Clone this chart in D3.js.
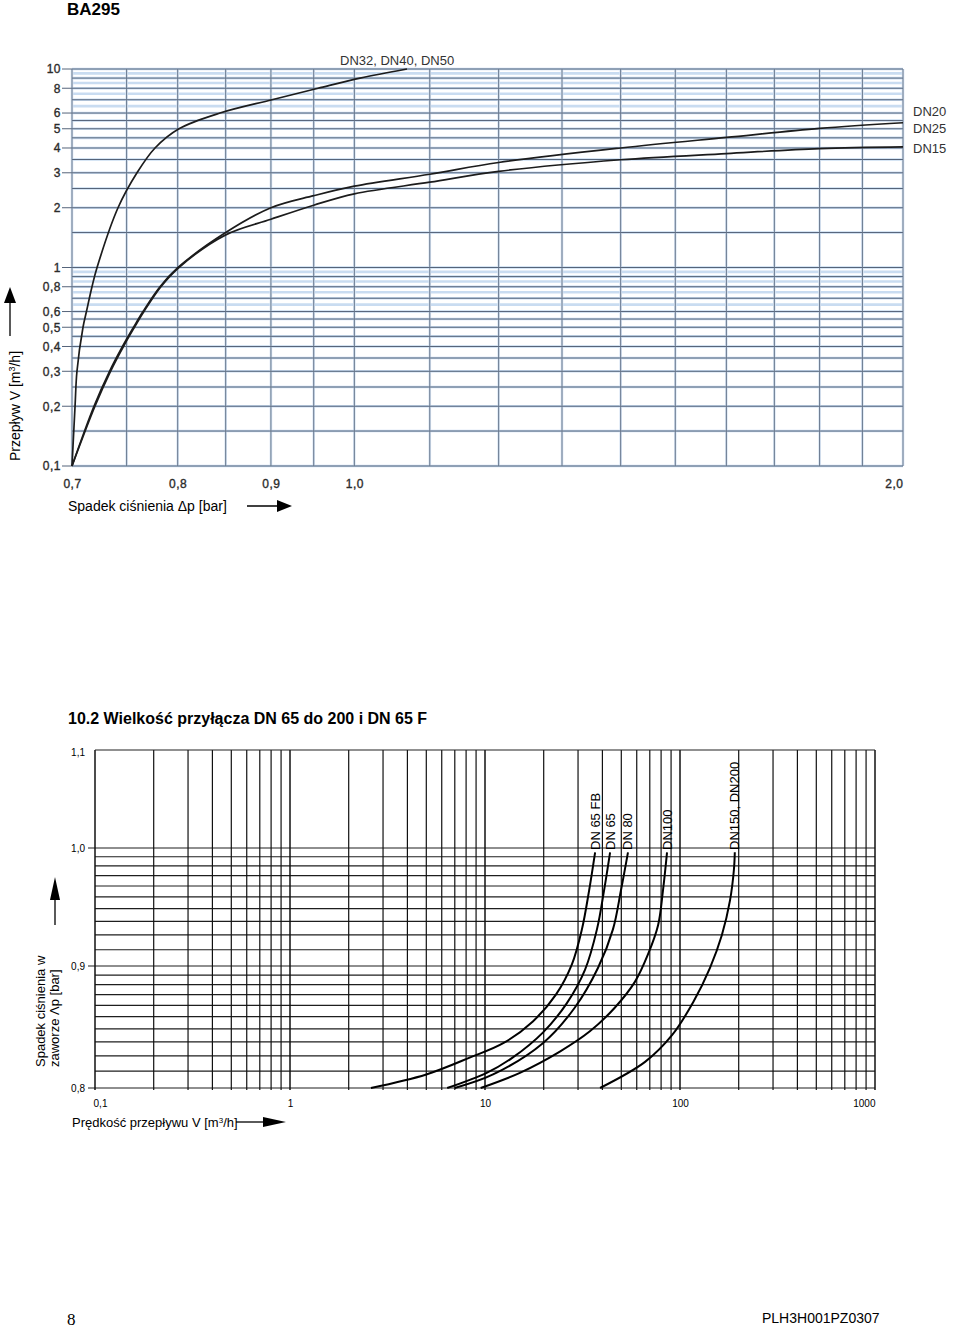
<!DOCTYPE html>
<html>
<head>
<meta charset="utf-8">
<script src="https://cdn.jsdelivr.net/npm/d3@7"></script>
<style>
  body { margin: 0; background: #fff; }
  svg { display: block; font-family: "Liberation Sans", Arial, sans-serif; }
</style>
</head>
<body>
<script>
// ---------- upper chart: DN15 ... DN50 ----------
var dpTicks = [0.7, 0.8, 0.9, 1.0, 2.0];
var dpGrid = [0.7, 0.75, 0.8, 0.85, 0.9, 0.95, 1.0, 1.1, 1.2, 1.3, 1.4, 1.5, 1.6, 1.7, 1.8, 1.9, 2.0];
var flowTicks = [0.1, 0.2, 0.3, 0.4, 0.5, 0.6, 0.8, 1, 2, 3, 4, 5, 6, 8, 10];
var flowGrid = [0.1, 0.15, 0.2, 0.25, 0.3, 0.35, 0.4, 0.45, 0.5, 0.55, 0.6, 0.7, 0.8, 0.9,
                1, 1.5, 2, 2.5, 3, 3.5, 4, 4.5, 5, 5.5, 6, 7, 8, 9, 10];
var flowGridLight = [0.65, 0.75, 0.85, 0.95, 6.5, 7.5, 8.5, 9.5];

// curves: pressure drop [bar] vs flow [m3/h]
var dpDN32 = [0.700, 0.7027, 0.7044, 0.7098, 0.7129, 0.7179, 0.7225, 0.7419, 0.7599, 0.7774, 0.8013, 0.8439, 0.9012, 0.9552, 1.0072, 1.0688];
var qDN32  = [0.1, 0.2, 0.3, 0.5, 0.6, 0.8, 1, 2, 3, 4, 5, 6, 7, 8, 9, 10];
var dpDN20 = [0.700, 0.7197, 0.7340, 0.7461, 0.7566, 0.7657, 0.7823, 0.8003, 0.85, 0.90, 0.95, 1.00, 1.10, 1.20, 1.40, 1.60, 1.80, 2.00];
var qDN20  = [0.1, 0.2, 0.3, 0.4, 0.5, 0.6, 0.8, 1.0, 1.50, 2.00, 2.30, 2.57, 2.95, 3.38, 4.00, 4.52, 5.02, 5.36];
var dpDN15 = [0.700, 0.7206, 0.7349, 0.7470, 0.7575, 0.7666, 0.7832, 0.8012, 0.85, 0.90, 0.95, 1.00, 1.10, 1.20, 1.40, 1.60, 1.80, 2.00];
var qDN15  = [0.1, 0.2, 0.3, 0.4, 0.5, 0.6, 0.8, 1.0, 1.46, 1.75, 2.06, 2.35, 2.69, 3.05, 3.49, 3.75, 3.97, 4.05];

// ---------- lower chart: DN65 ... DN200 ----------
var vTicks = [0.1, 1, 10, 100, 1000];
var pTicks = [0.8, 0.9, 1.0, 1.1];
var vDN65FB = [2.6, 5.0, 8.4, 12.4, 17.6, 23.1, 27.9, 31.4, 34.2, 36.7];
var pDN65FB = [0.800, 0.808, 0.819, 0.829, 0.846, 0.870, 0.901, 0.924, 0.956, 0.995];
var vDN65 = [6.4, 10.2, 13.9, 19.8, 26.3, 32.6, 37.5, 40.8, 43.8];
var pDN65 = [0.800, 0.809, 0.819, 0.837, 0.862, 0.896, 0.924, 0.956, 0.995];
var vDN80 = [7.0, 11.0, 19.8, 28.9, 38.0, 45.3, 49.8, 54.1];
var pDN80 = [0.800, 0.808, 0.829, 0.858, 0.898, 0.924, 0.956, 0.995];
var vDN100 = [9.5, 15.1, 24.2, 34.5, 46.4, 58.8, 68.5, 77.2, 81.8, 85.8];
var pDN100 = [0.800, 0.809, 0.823, 0.838, 0.858, 0.883, 0.907, 0.927, 0.956, 0.995];
var vDN150 = [38.9, 66.2, 91.0, 117, 142.5, 164, 180.5, 189, 191];
var pDN150 = [0.800, 0.816, 0.835, 0.863, 0.898, 0.920, 0.947, 0.976, 0.995];
var lowerNames = ["DN 65 FB", "DN 65", "DN 80", "DN100", "DN150, DN200"];

var svg = d3.select("body").append("svg")
    .attr("width", 960)
    .attr("height", 1329);

var comma = function(d){ return String(d).replace(".", ","); };

// header
svg.append("text").attr("x", 67).attr("y", 15)
    .style("font-size", "17px").style("font-weight", "bold").text("BA295");

// ================= upper chart =================
var x = d3.scaleLog().domain([0.7, 2]).range([72, 903]);
var y = d3.scaleLog().domain([0.1, 10]).range([466, 69]);

var gTop = svg.append("g");

// blue halo under grid lines
gTop.selectAll(".hHalo").data(flowGrid.concat(flowGridLight)).enter().append("line")
    .attr("x1", 72).attr("x2", 903)
    .attr("y1", function(d){ return y(d); }).attr("y2", function(d){ return y(d); })
    .style("stroke", "#c9dcf1").style("stroke-width", 2.6);
gTop.selectAll(".vHalo").data(dpGrid).enter().append("line")
    .attr("y1", 69).attr("y2", 466)
    .attr("x1", function(d){ return x(d); }).attr("x2", function(d){ return x(d); })
    .style("stroke", "#d8e5f4").style("stroke-width", 2.6);

// dark grid lines
gTop.selectAll(".hGrid").data(flowGrid).enter().append("line")
    .attr("x1", function(d){ return flowTicks.indexOf(d) >= 0 ? 62 : 72; }).attr("x2", 903)
    .attr("y1", function(d){ return y(d); }).attr("y2", function(d){ return y(d); })
    .style("stroke", "#55647a").style("stroke-width", 1);
gTop.selectAll(".vGrid").data(dpGrid).enter().append("line")
    .attr("y1", 69).attr("y2", 466)
    .attr("x1", function(d){ return x(d); }).attr("x2", function(d){ return x(d); })
    .style("stroke", "#66768c").style("stroke-width", 1);

// axes (labels only)
var xAxis = gTop.append("g").attr("transform", "translate(0,466)")
    .call(d3.axisBottom(x).tickValues(dpTicks).tickSize(0).tickPadding(13)
        .tickFormat(function(d){ return d3.format(".1f")(d).replace(".", ","); }));
var yAxis = gTop.append("g").attr("transform", "translate(72,0)")
    .call(d3.axisLeft(y).tickValues(flowTicks).tickSize(0).tickPadding(11).tickFormat(comma));
[xAxis, yAxis].forEach(function(a){
    a.select(".domain").remove();
    a.selectAll("text").style("font-size", "12px").style("fill", "#2b2b2b")
        .style("stroke", "#2b2b2b").style("stroke-width", 0.35)
        .style("font-family", "'Liberation Sans', Arial, sans-serif").style("letter-spacing", "0.5px");
});
xAxis.selectAll(".tick").filter(function(d){ return d === 2; }).select("text").attr("text-anchor", "end");

// curves
var lineTop = d3.line()
    .x(function(d){ return x(d[0]); })
    .y(function(d){ return y(d[1]); })
    .curve(d3.curveCatmullRom.alpha(0.5));
[[dpDN32, qDN32], [dpDN20, qDN20], [dpDN15, qDN15]].forEach(function(s){
    gTop.append("path").datum(d3.zip(s[0], s[1]))
        .attr("d", lineTop)
        .style("fill", "none").style("stroke", "#1c1c1c").style("stroke-width", 1.7);
});

// curve labels
gTop.append("text").attr("x", 340).attr("y", 65).style("font-size", "13px").style("fill", "#333")
    .text("DN32, DN40, DN50");
gTop.selectAll(".rlab").data([["DN20", 116], ["DN25", 133], ["DN15", 153]]).enter().append("text")
    .attr("x", 913).attr("y", function(d){ return d[1]; })
    .style("font-size", "13px").style("fill", "#333")
    .text(function(d){ return d[0]; });

// axis titles and arrows
var yT = gTop.append("text").attr("transform", "translate(20,461) rotate(-90)")
    .style("font-size", "14px");
yT.append("tspan").text("Przepływ  V [m");
yT.append("tspan").attr("baseline-shift", "super").style("font-size", "9px").text("3");
yT.append("tspan").text("/h]");
gTop.append("line").attr("x1", 10).attr("x2", 10).attr("y1", 336).attr("y2", 300)
    .style("stroke", "#000").style("stroke-width", 1.3);
gTop.append("path").attr("d", "M10,287L4,303L16,303Z").style("fill", "#000");

gTop.append("text").attr("x", 68).attr("y", 511).style("font-size", "14px")
    .text("Spadek ciśnienia  Δp [bar]");
gTop.append("line").attr("x1", 247).attr("x2", 280).attr("y1", 506).attr("y2", 506)
    .style("stroke", "#000").style("stroke-width", 1.3);
gTop.append("path").attr("d", "M292,506L277,500L277,512Z").style("fill", "#000");

// ================= lower chart =================
svg.append("text").attr("x", 68).attr("y", 724)
    .style("font-size", "16px").style("font-weight", "bold")
    .text("10.2  Wielkość przyłącza DN 65 do 200 i DN 65 F");

var xB = d3.scaleLog().domain([0.1, 1000]).range([95, 875]);
// each 0.1 bar band of the chart paper is a log cycle
var bandY = d3.scaleLinear().domain([0, 1, 2, 3]).range([1088, 966, 848, 750]);
function yB(p){
    var k = Math.min(2, Math.floor((p - 0.8) / 0.1 + 1e-9));
    var f = (p - 0.8 - k * 0.1) / 0.1;
    return bandY(k + Math.log2(1 + f));
}

var gBot = svg.append("g");
var pGrid = d3.range(80, 101).map(function(d){ return d / 100; });

gBot.selectAll(".bh").data(pGrid).enter().append("line")
    .attr("x1", function(d){ return (d === 0.8 || d === 0.9 || d === 1) ? 88 : 95; }).attr("x2", 875)
    .attr("y1", function(d){ return yB(d); }).attr("y2", function(d){ return yB(d); })
    .style("stroke", "#1e1e1e").style("stroke-width", 1.2);
gBot.selectAll(".bv").data(xB.ticks()).enter().append("line")
    .attr("x1", function(d){ return xB(d); }).attr("x2", function(d){ return xB(d); })
    .attr("y1", 750).attr("y2", 1090)
    .style("stroke", "#111").style("stroke-width", function(d){ return vTicks.indexOf(d) >= 0 ? 1.5 : 1.2; });
gBot.append("line").attr("x1", 95).attr("x2", 875).attr("y1", yB(1.1)).attr("y2", yB(1.1))
    .style("stroke", "#222").style("stroke-width", 1.2);

// tick labels
var xAxisB = gBot.append("g").attr("transform", "translate(0,1088)")
    .call(d3.axisBottom(xB).tickValues(vTicks).tickSize(0).tickPadding(12).tickFormat(comma));
xAxisB.select(".domain").remove();
xAxisB.selectAll("text").style("font-size", "10px").style("font-family", "'Liberation Sans', Arial, sans-serif");
xAxisB.selectAll(".tick").filter(function(d){ return d === 0.1; }).select("text").attr("x", 5);
xAxisB.selectAll(".tick").filter(function(d){ return d === 1000; }).select("text").attr("text-anchor", "end");

gBot.selectAll(".pl").data(pTicks).enter().append("text")
    .attr("x", 85).attr("y", function(d){ return yB(d) + (d === 1.1 ? 2 : 0); })
    .attr("text-anchor", "end").attr("dominant-baseline", "central")
    .style("font-size", "10px")
    .text(function(d){ return d3.format(".1f")(d).replace(".", ","); });

// curves
var lineBot = d3.line()
    .x(function(d){ return xB(d[0]); })
    .y(function(d){ return yB(d[1]); })
    .curve(d3.curveCatmullRom.alpha(0.5));
var lowerSeries = [[vDN65FB, pDN65FB], [vDN65, pDN65], [vDN80, pDN80], [vDN100, pDN100], [vDN150, pDN150]];
lowerSeries.forEach(function(s, i){
    gBot.append("path").datum(d3.zip(s[0], s[1]))
        .attr("d", lineBot)
        .style("fill", "none").style("stroke", "#000").style("stroke-width", 2);
    var last = s[0][s[0].length - 1];
    gBot.append("text")
        .attr("transform", "translate(" + xB(last) + ",850) rotate(-90)")
        .attr("dominant-baseline", "central")
        .style("font-size", "13px")
        .text(lowerNames[i]);
});

// axis titles and arrows
gBot.append("text").attr("transform", "translate(45,1067) rotate(-90)")
    .style("font-size", "13px").text("Spadek ciśnienia w");
gBot.append("text").attr("transform", "translate(59,1067) rotate(-90)")
    .style("font-size", "13px").text("zaworze Λp [bar]");
gBot.append("line").attr("x1", 55).attr("x2", 55).attr("y1", 925).attr("y2", 897)
    .style("stroke", "#000").style("stroke-width", 1.3);
gBot.append("path").attr("d", "M55,877L50,900L60,900Z").style("fill", "#000");

var xTB = gBot.append("text").attr("x", 72).attr("y", 1127).style("font-size", "13px");
xTB.append("tspan").text("Prędkość przepływu V [m");
xTB.append("tspan").attr("baseline-shift", "super").style("font-size", "8px").text("3");
xTB.append("tspan").text("/h]");
gBot.append("line").attr("x1", 236).attr("x2", 265).attr("y1", 1122).attr("y2", 1122)
    .style("stroke", "#000").style("stroke-width", 1.3);
gBot.append("path").attr("d", "M286,1122L263,1117L263,1127Z").style("fill", "#000");

// footer
svg.append("text").attr("x", 67).attr("y", 1325)
    .style("font-family", "'Liberation Serif', serif").style("font-size", "17px").text("8");
svg.append("text").attr("x", 762).attr("y", 1323)
    .style("font-size", "14px").text("PLH3H001PZ0307");
</script>
</body>
</html>
